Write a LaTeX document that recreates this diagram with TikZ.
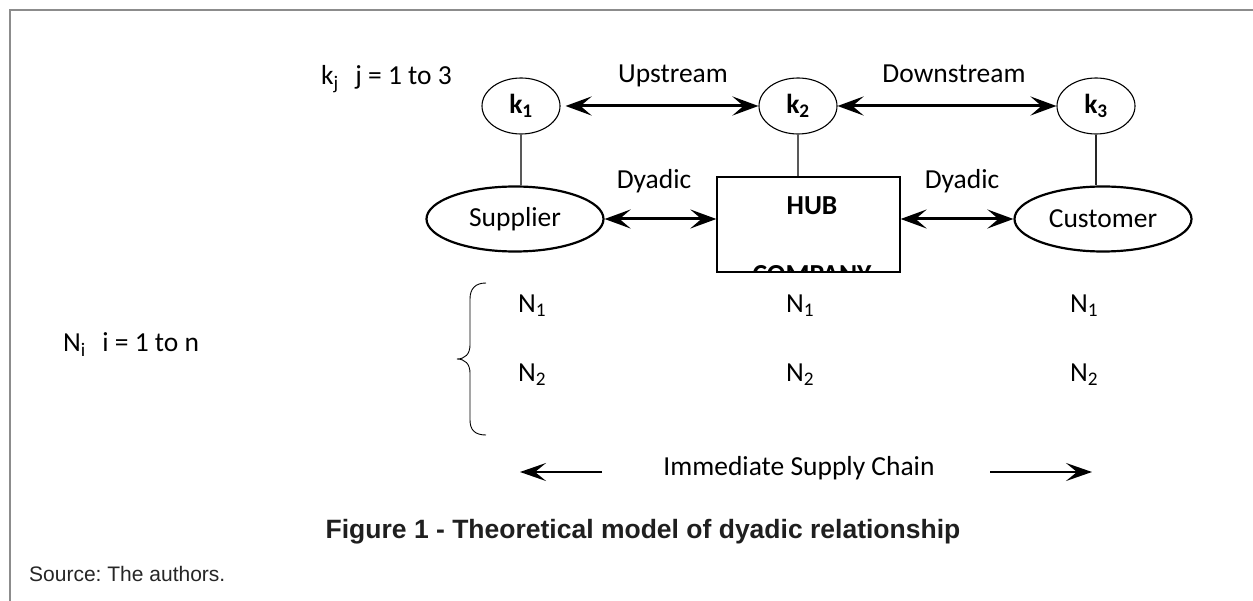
\documentclass[tikz,border=0pt]{standalone}
\usepackage{fontspec}
\setmainfont{Carlito}
\newfontfamily\arialfont{Liberation Sans}
\usetikzlibrary{shapes.geometric,arrows.meta}
\frenchspacing
\begin{document}
\begin{tikzpicture}[x=1pt,y=-1pt,
  txt/.style={font=\fontsize{27.5}{33}\selectfont, inner sep=0pt},
  btxt/.style={font=\fontsize{27.5}{33}\selectfont\bfseries, inner sep=0pt},
  kell/.style={ellipse, draw, line width=1.1pt, minimum width=78pt, minimum height=56pt, inner sep=0pt, font=\fontsize{27.5}{33}\selectfont\bfseries},
  bigell/.style={ellipse, draw, line width=2.2pt, minimum width=177pt, minimum height=65pt, inner sep=0pt, font=\fontsize{27.5}{33}\selectfont},
  hubbox/.style={draw, line width=1.3pt, minimum width=183pt, minimum height=95pt, inner sep=0pt},
  dbl/.style={line width=3pt, {Stealth[length=26pt,width=19pt,inset=11pt]}-{Stealth[length=26pt,width=19pt,inset=11pt]}},
  single/.style={line width=2.7pt, -{Stealth[length=26pt,width=18pt,inset=11pt]}},
  link/.style={line width=1.2pt, draw=black!65},
  frame/.style={line width=2pt, draw=black!45},
  caption/.style={font=\arialfont\bfseries\fontsize{26.5}{30}\selectfont, inner sep=0pt, text=black!88},
  source/.style={font=\arialfont\fontsize{21}{25}\selectfont, inner sep=0pt, text=black!85}
]
\useasboundingbox (0,0) rectangle (1253,601);
% frame
\draw[frame] (10,601) -- (10,10) -- (1253,10);

% labels top
\node[txt, anchor=base west] (kj) at (321,85) {k\textsubscript{j}\hspace{0.6em}j = 1 to 3};
\node[txt, anchor=base] (up) at (673,83) {Upstream};
\node[txt, anchor=base] (down) at (954,83) {Downstream};

% k nodes
\node[kell] (k1) at (521,106) {k\textsubscript{1}};
\node[kell] (k2) at (798,106) {k\textsubscript{2}};
\node[kell] (k3) at (1096,106) {k\textsubscript{3}};

% main nodes
\node[bigell] (sup) at (515,219) {Supplier};
\node[bigell] (cus) at (1103,219) {Customer};
\node[hubbox] (hub) at (808.5,224.5) {};
\node[btxt, anchor=base] (hubt) at (812,215) {HUB};
\begin{scope}
  \clip (hub.south west) rectangle (hub.north east);
  \node[btxt, anchor=base] (comp) at (812,284) {COMPANY};
\end{scope}

% dyadic labels
\node[txt, anchor=base] (dy1) at (654,189) {Dyadic};
\node[txt, anchor=base] (dy2) at (962,189) {Dyadic};

% connectors
\draw[dbl] ([xshift=5pt]k1.east) -- (k2.west);
\draw[dbl] (k2.east) -- (k3.west);
\draw[dbl] (sup.east) -- (sup.east -| hub.west);
\draw[dbl] (cus.west -| hub.east) -- (cus.west);
\draw[link] (k1.south) -- (k1.south |- sup.north);
\draw[link] (k2.south) -- (k2.south |- hub.north);
\draw[link, draw=black!85] (k3.south) -- (k3.south |- cus.north);

% N labels
\node[txt, anchor=base west] (ni) at (63,352) {N\textsubscript{i}\hspace{0.6em}i = 1 to n};
\draw[line width=0.9pt] (486,283) .. controls (475,283) and (470,289) .. (470,299) -- (470,345)
  .. controls (470,354) and (465,359) .. (457,359)
  .. controls (465,359) and (470,364) .. (470,373) -- (470,420)
  .. controls (470,430) and (475,435) .. (486,435);
\node[txt, anchor=base west] (n11) at (518,313) {N\textsubscript{1}};
\node[txt, anchor=base west] (n21) at (518,382) {N\textsubscript{2}};
\node[txt, anchor=base] (n12) at (800,313) {N\textsubscript{1}};
\node[txt, anchor=base] (n22) at (800,382) {N\textsubscript{2}};
\node[txt, anchor=base] (n13) at (1084,313) {N\textsubscript{1}};
\node[txt, anchor=base] (n23) at (1084,382) {N\textsubscript{2}};

% immediate supply chain
\node[txt, anchor=base] (isc) at (799,475) {Immediate Supply Chain};
\coordinate (la1) at (602,472);
\coordinate (la2) at (520,472);
\coordinate (ra1) at (990,472);
\coordinate (ra2) at (1092,472);
\draw[single] (la1) -- (la2);
\draw[single] (ra1) -- (ra2);

% caption and source
\node[caption, anchor=base] (cap) at (643,538) {Figure 1 - Theoretical model of dyadic relationship};
\node[source, anchor=base west] (src) at (29,581) {Source: The authors.};
\end{tikzpicture}
\end{document}
